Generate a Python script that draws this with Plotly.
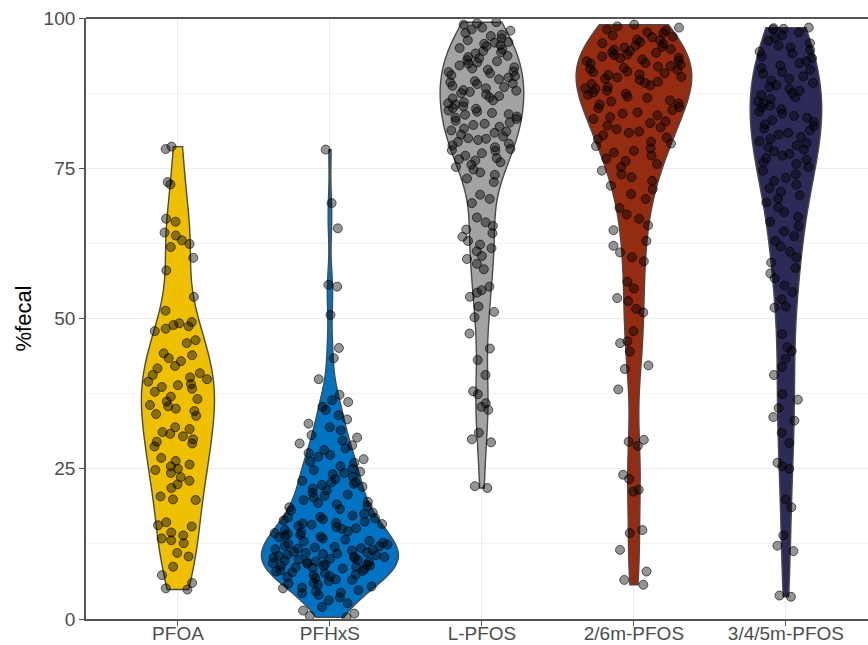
import numpy as np
import plotly.graph_objects as go

# Percentage of each compound excreted via the fecal route, per individual
categories = ["PFOA", "PFHxS", "L-PFOS", "2/6m-PFOS", "3/4/5m-PFOS"]

pfoa = [78.6, 78.2, 72.7, 72.3, 66.6, 66.1, 64.3, 63.8, 63.0, 62.4, 61.9, 60.1,
        58.0, 53.6, 51.3, 49.4, 49.2, 48.9, 48.7, 48.3, 47.9, 46.4, 45.9, 44.2,
        43.9, 43.4, 42.9, 42.1, 41.7, 40.9, 40.6, 40.2, 39.9, 39.5, 39.1, 38.9,
        38.6, 38.3, 37.8, 37.0, 36.6, 36.2, 35.6, 35.4, 35.0, 34.6, 34.1, 33.8,
        31.9, 31.6, 31.1, 30.8, 30.4, 29.9, 29.5, 29.2, 28.7, 26.8, 26.3, 25.7,
        25.4, 25.0, 24.8, 24.3, 23.6, 23.0, 22.4, 21.8, 20.4, 19.9, 19.8, 16.1,
        15.6, 15.4, 14.4, 13.9, 13.4, 13.1, 12.6, 11.0, 10.4, 8.7, 7.3, 6.0,
        5.1, 4.9]

pfhxs = [78.1, 69.2, 65.0, 55.6, 55.3, 50.6, 45.1, 43.4, 39.9, 37.3, 36.4, 36.1,
         35.3, 34.8, 33.9, 33.2, 32.5, 31.9, 31.4, 30.6, 30.2, 29.7, 29.2, 28.9,
         28.4, 28.1, 27.6, 27.3, 27.0, 26.6, 26.2, 26.0, 25.4, 25.0, 24.8, 24.5,
         24.3, 24.1, 23.7, 23.3, 23.0, 22.8, 22.7, 22.5, 22.3, 22.0, 21.7, 21.4,
         21.0, 20.7, 20.5, 20.2, 19.8, 19.5, 19.3, 19.1, 18.8, 18.6, 18.3, 18.1,
         17.7, 17.5, 17.2, 17.0, 16.9, 16.8, 16.6, 16.4, 16.2, 16.0, 15.9, 15.8,
         15.7, 15.5, 15.3, 15.1, 15.0, 14.8, 14.6, 14.4, 14.3, 14.1, 14.0, 13.9,
         13.7, 13.6, 13.4, 13.2, 13.0, 12.9, 12.7, 12.5, 12.4, 12.2, 12.1, 12.0,
         11.9, 11.8, 11.7, 11.6, 11.5, 11.4, 11.2, 11.1, 11.0, 10.9, 10.8, 10.7,
         10.6, 10.5, 10.4, 10.3, 10.2, 10.1, 10.0, 9.9, 9.8, 9.7, 9.6, 9.5, 9.4,
         9.3, 9.2, 9.1, 9.0, 8.9, 8.9, 8.8, 8.7, 8.6, 8.5, 8.4, 8.3, 8.1, 8.0,
         7.9, 7.8, 7.6, 7.4, 7.3, 7.1, 7.0, 6.8, 6.6, 6.5, 6.3, 6.0, 5.9, 5.7,
         5.4, 5.2, 5.1, 4.8, 4.6, 4.4, 4.3, 4.0, 3.6, 3.1, 2.6, 2.0, 1.4, 0.9,
         0.5, 0.3]

l_pfos = [99.3, 99.1, 98.9, 98.4, 98.1, 97.9, 97.5, 97.2, 97.0, 96.6, 96.3, 96.0,
          95.9, 95.7, 95.5, 95.3, 95.0, 94.8, 94.5, 94.3, 94.1, 93.7, 93.5, 93.3,
          93.0, 92.8, 92.6, 92.4, 92.1, 91.8, 91.6, 91.4, 91.1, 91.0, 90.8, 90.5,
          90.3, 90.1, 89.8, 89.5, 89.3, 89.1, 89.0, 88.7, 88.5, 88.3, 88.0, 87.9,
          87.7, 87.5, 87.3, 87.0, 86.8, 86.6, 86.3, 86.0, 85.8, 85.6, 85.3, 85.0,
          84.9, 84.6, 84.4, 84.2, 84.0, 83.9, 83.6, 83.4, 83.2, 82.9, 82.6, 82.4,
          82.2, 81.9, 81.6, 81.3, 81.1, 80.9, 80.6, 80.3, 80.0, 79.9, 79.7, 79.4,
          79.1, 78.8, 78.5, 78.2, 78.0, 77.9, 77.5, 77.1, 76.7, 76.5, 76.3, 76.0,
          75.6, 75.2, 74.8, 74.3, 73.9, 73.3, 72.7, 70.6, 69.9, 69.2, 66.8, 66.0,
          65.4, 64.8, 64.2, 63.6, 62.9, 62.3, 61.7, 61.2, 60.4, 59.9, 59.1, 58.2,
          55.3, 54.7, 54.3, 53.6, 52.0, 51.1, 50.2, 47.5, 45.0, 43.1, 40.6, 37.9,
          37.4, 35.9, 35.3, 34.8, 31.0, 29.9, 29.4, 22.1, 21.8]

pfos_26m = [98.9, 98.6, 98.4, 98.1, 97.9, 97.6, 97.5, 97.1, 96.9, 96.8, 96.4, 96.3,
            96.0, 95.8, 95.7, 95.4, 95.2, 95.1, 94.8, 94.7, 94.5, 94.3, 94.2, 93.9,
            93.8, 93.6, 93.4, 93.3, 93.1, 92.9, 92.8, 92.5, 92.4, 92.2, 92.0, 91.9,
            91.7, 91.5, 91.4, 91.1, 91.0, 90.8, 90.6, 90.5, 90.2, 90.1, 89.9, 89.7,
            89.4, 89.2, 89.0, 88.8, 88.5, 88.3, 88.2, 87.9, 87.6, 87.4, 87.2, 86.9,
            86.7, 86.3, 86.1, 85.8, 85.6, 85.2, 85.0, 84.7, 84.3, 84.1, 83.8, 83.5,
            83.2, 82.8, 82.5, 82.1, 81.8, 81.5, 81.1, 80.9, 80.5, 80.1, 79.8, 79.4,
            79.1, 78.7, 78.3, 77.9, 77.6, 77.1, 76.6, 76.2, 75.7, 75.2, 74.6, 74.0,
            73.5, 72.9, 72.1, 71.5, 70.7, 69.9, 68.4, 67.3, 66.6, 65.5, 64.7, 62.9,
            62.1, 61.0, 60.2, 59.5, 56.1, 55.0, 53.4, 52.9, 51.6, 51.0, 47.9, 46.2,
            45.9, 44.5, 42.2, 41.6, 38.2, 29.8, 29.5, 28.8, 24.0, 23.3, 21.5, 21.2,
            14.8, 14.3, 11.5, 7.9, 6.5, 5.7]

pfos_345m = [98.4, 98.3, 98.2, 98.1, 97.6, 97.1, 96.7, 96.2, 95.8, 95.4, 95.1, 94.7,
             94.4, 94.1, 93.6, 93.3, 92.8, 92.5, 92.1, 91.7, 91.4, 91.0, 90.7, 90.3,
             89.9, 89.6, 89.2, 88.8, 88.5, 88.2, 87.9, 87.5, 87.2, 86.8, 86.5, 86.1,
             85.8, 85.4, 85.1, 84.8, 84.4, 84.1, 83.7, 83.4, 83.0, 82.7, 82.3, 82.0,
             81.6, 81.3, 80.9, 80.6, 80.2, 79.9, 79.5, 79.2, 78.8, 78.5, 78.1, 77.8,
             77.4, 77.1, 76.7, 76.4, 76.0, 75.7, 75.2, 74.6, 74.0, 73.4, 72.9, 72.3,
             71.7, 71.1, 70.5, 69.9, 69.3, 68.5, 67.7, 66.9, 66.1, 65.3, 64.5, 63.7,
             62.9, 62.0, 61.1, 60.2, 59.3, 58.4, 57.5, 56.7, 55.5, 54.4, 53.2, 52.0,
             51.8, 47.4, 45.2, 44.6, 43.3, 41.9, 40.6, 37.4, 36.5, 35.1, 33.6, 33.0,
             31.0, 29.3, 26.0, 25.4, 25.0, 19.9, 18.6, 13.9, 12.2, 11.3, 3.9, 3.7]

series = [pfoa, pfhxs, l_pfos, pfos_26m, pfos_345m]

# Styling per compound
fill_colors = ["#EFC000", "#0073C2", "#A3A3A3", "#952B10", "#2C2A57"]
violin_widths = [0.48, 0.90, 0.55, 0.76, 0.47]

y_ticks = [0, 25, 50, 75, 100]


def nrd0(values):
    """Silverman's rule of thumb as used by R's bw.nrd0."""
    v = np.asarray(values, dtype=float)
    sd = v.std(ddof=1)
    iqr = np.percentile(v, 75) - np.percentile(v, 25)
    spread = min(sd, iqr / 1.34) if iqr > 0 else sd
    return 0.9 * spread * len(v) ** (-0.2)


fig = go.Figure()
for name, vals, color, w in zip(categories, series, fill_colors, violin_widths):
    fig.add_trace(go.Violin(
        x=[name] * len(vals),
        y=vals,
        name=name,
        fillcolor=color,
        line=dict(color="#4A4A4A", width=1.4),
        opacity=1,
        width=w,
        bandwidth=nrd0(vals),
        spanmode="hard",
        scalemode="width",
        points="all",
        pointpos=0,
        jitter=0.85,
        marker=dict(size=9, color="rgba(0,0,0,0.42)",
                    line=dict(color="rgba(0,0,0,0.6)", width=1)),
        box_visible=False,
        meanline_visible=False,
        showlegend=False,
        hoverinfo="y",
    ))

axis_color = "#555555"
tick_font = dict(size=19, color="#4D4D4D")
fig.update_layout(
    width=868, height=645,
    margin=dict(l=86, r=0, t=18, b=26),
    paper_bgcolor="white",
    plot_bgcolor="white",
    violinmode="overlay",
    font=dict(family="Liberation Sans, Arial, sans-serif", color="#4D4D4D", size=19),
    xaxis=dict(
        type="category",
        categoryorder="array",
        categoryarray=categories,
        range=[-0.605, 4.54],
        automargin=False,
        showgrid=True, gridcolor="#EBEBEB", gridwidth=1.4,
        showline=True, linecolor=axis_color, linewidth=1.8,
        ticks="outside", ticklen=5, tickcolor=axis_color, tickwidth=1.4,
        tickfont=tick_font,
        ticklabelstandoff=-9,
        zeroline=False,
    ),
    yaxis=dict(
        range=[0, 100],
        tickvals=y_ticks,
        ticktext=[str(t) for t in y_ticks],
        automargin=False,
        showgrid=True, gridcolor="#EBEBEB", gridwidth=1.4,
        minor=dict(dtick=12.5, tick0=0, showgrid=True, gridcolor="#F3F3F3", gridwidth=1),
        showline=True, linecolor=axis_color, linewidth=1.8,
        ticks="outside", ticklen=5, tickcolor=axis_color, tickwidth=1.4,
        tickfont=tick_font,
        zeroline=False,
        title=dict(text="%fecal", font=dict(size=22, color="black"), standoff=6),
    ),
    shapes=[dict(type="line", xref="paper", yref="paper", x0=0, x1=1, y0=1, y1=1,
                 line=dict(color=axis_color, width=1.8), layer="above")],
)

fig.write_html("out.html")
